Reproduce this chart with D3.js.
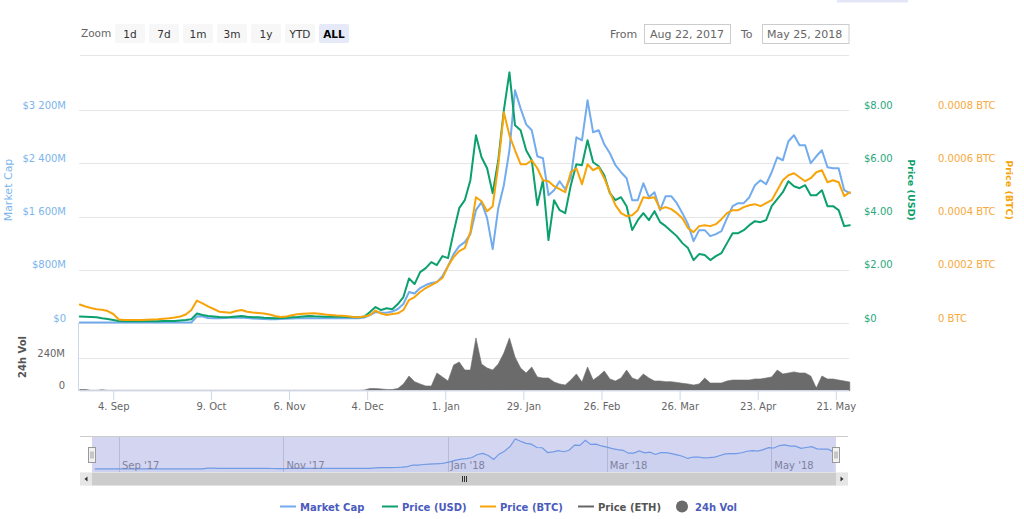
<!DOCTYPE html>
<html><head><meta charset="utf-8">
<script src="https://cdn.jsdelivr.net/npm/d3@7/dist/d3.min.js"></script>
<style>
body{margin:0;background:#fff;}
svg{display:block;font-family:"DejaVu Sans",Verdana,sans-serif;}
</style>
</head><body>
<svg id="c" width="1024" height="519"></svg>
<script>
// ---------- DATA (one sample every 2 days, starting 23 Aug 2017) ----------
const marketCap = [ // USD millions
8,8,8,8,8,8,8,8,8,8,8,8,8,8,8,8,8,8,8,8,8,
100,97,75,70,72,75,78,80,82,75,68,63,60,55,55,60,63,68,70,72,72,70,70,70,70,70,70,70,70,70,
82,120,165,158,155,172,210,285,465,442,525,570,600,615,705,855,1035,1155,1215,1335,1695,1815,1575,1110,1725,2070,2595,3495,3225,2985,2895,2505,2475,1920,1995,2130,2010,2190,2790,2745,3345,2865,2895,2685,2550,2370,2265,2175,1845,1845,2100,1890,1965,1695,1905,1905,1800,1650,1485,1230,1395,1395,1305,1335,1380,1575,1755,1800,1800,1890,2070,2145,2085,2265,2490,2445,2730,2820,2670,2670,2400,2505,2595,2340,2325,2325,1995,1950
];
const priceUsd = [
0.244,0.233,0.225,0.214,0.176,0.150,0.113,0.075,0.068,0.064,0.064,0.064,0.068,0.068,0.068,0.075,0.075,0.075,0.094,0.113,0.139,
0.356,0.300,0.263,0.244,0.225,0.214,0.225,0.244,0.263,0.233,0.218,0.214,0.195,0.188,0.176,0.188,0.199,0.214,0.225,0.244,0.263,0.251,0.244,0.236,0.236,0.236,0.236,0.225,0.218,0.214,
0.244,0.413,0.600,0.488,0.551,0.514,0.713,0.975,1.669,1.463,1.913,2.063,2.288,2.175,2.513,2.438,3.413,4.313,4.613,5.363,7.05,6.225,5.813,4.875,6.113,7.988,9.413,7.425,7.238,6.488,6.113,4.425,5.363,3.113,4.613,4.238,4.125,5.175,5.963,5.925,6.863,6.038,5.888,5.55,4.875,4.613,4.725,4.388,3.488,3.863,4.125,3.863,4.2,3.788,3.638,3.45,3.263,3.0,2.813,2.363,2.588,2.55,2.363,2.513,2.625,3.0,3.375,3.375,3.488,3.675,3.825,3.788,3.863,4.388,4.65,4.913,5.325,5.138,5.063,5.175,4.8,4.8,4.988,4.388,4.388,4.238,3.638,3.675
];
const priceBtc = [
0.694e-4,0.619e-4,0.563e-4,0.514e-4,0.495e-4,0.45e-4,0.338e-4,0.131e-4,0.113e-4,0.113e-4,0.113e-4,0.113e-4,0.12e-4,0.131e-4,0.139e-4,0.158e-4,0.176e-4,0.206e-4,0.244e-4,0.319e-4,0.488e-4,
0.844e-4,0.739e-4,0.626e-4,0.525e-4,0.424e-4,0.405e-4,0.386e-4,0.45e-4,0.488e-4,0.42e-4,0.394e-4,0.375e-4,0.356e-4,0.319e-4,0.263e-4,0.225e-4,0.244e-4,0.289e-4,0.33e-4,0.345e-4,0.356e-4,0.364e-4,0.345e-4,0.319e-4,0.30e-4,0.281e-4,0.274e-4,0.251e-4,0.225e-4,0.214e-4,
0.244e-4,0.30e-4,0.469e-4,0.356e-4,0.30e-4,0.338e-4,0.364e-4,0.488e-4,0.863e-4,0.975e-4,1.163e-4,1.313e-4,1.425e-4,1.538e-4,1.688e-4,2.138e-4,2.475e-4,2.70e-4,2.813e-4,3.413e-4,4.725e-4,4.575e-4,4.20e-4,4.388e-4,5.925e-4,7.913e-4,7.05e-4,6.488e-4,5.963e-4,5.963e-4,6.113e-4,5.813e-4,5.363e-4,5.325e-4,5.138e-4,5.025e-4,4.913e-4,5.663e-4,5.813e-4,5.213e-4,5.963e-4,5.738e-4,5.85e-4,5.438e-4,4.913e-4,4.425e-4,4.125e-4,4.013e-4,4.05e-4,4.238e-4,4.725e-4,4.688e-4,4.725e-4,4.275e-4,4.35e-4,4.275e-4,4.125e-4,3.938e-4,3.563e-4,3.413e-4,3.638e-4,3.675e-4,3.638e-4,3.713e-4,3.90e-4,4.125e-4,4.238e-4,4.238e-4,4.35e-4,4.425e-4,4.463e-4,4.388e-4,4.50e-4,4.613e-4,4.988e-4,5.363e-4,5.55e-4,5.625e-4,5.475e-4,5.325e-4,5.438e-4,5.663e-4,5.738e-4,5.288e-4,5.363e-4,5.288e-4,4.763e-4,4.913e-4
];
const volume24h = [ // USD millions
9,9,3,3,7,3,3,3,3,3,3,3,3,3,3,3,3,3,3,3,3,
3,3,3,3,3,3,3,3,3,3,3,3,3,3,3,3,3,3,3,3,3,3,3,3,3,3,3,3,3,3,
5,16,16,13,9,9,16,50,109,67,50,35,35,131,102,72,190,213,153,153,391,198,168,153,198,279,391,250,168,131,176,102,94,94,64,50,42,79,124,64,176,79,109,146,87,72,94,153,94,79,124,94,72,72,67,67,61,55,50,42,50,94,57,57,57,72,79,79,79,79,87,87,94,102,153,124,131,139,131,131,109,20,109,87,87,79,72,64
];
const mcTicks = [0, 800, 1600, 2400, 3200];
const usdTicks = [0, 2, 4, 6, 8];
const btcTicks = [0, 0.0002, 0.0004, 0.0006, 0.0008];
const volTicks = [0, 240];
const xTickDates = ["2017-09-04","2017-10-09","2017-11-06","2017-12-04","2018-01-01","2018-01-29","2018-02-26","2018-03-26","2018-04-23","2018-05-21"];
const navTickDates = ["2017-09-01","2017-11-01","2018-01-01","2018-03-01","2018-05-01"];
const zoomButtons = ["1d","7d","1m","3m","1y","YTD","ALL"];
const legendItems = ["Market Cap","Price (USD)","Price (BTC)","Price (ETH)","24h Vol"];

// ---------- SETUP ----------
const C = {mc:"#72abee", usd:"#0ba06c", btc:"#f7a30a", eth:"#666666", vol:"#6b6b6b",
  mcLab:"#7cb5ec", usdLab:"#2aa87b", btcLab:"#f7a93c", grid:"#e6e6e6", axis:"#ccd6eb"};
const svg = d3.select("#c");
const parse = d3.timeParse("%Y-%m-%d");
const start = parse("2017-08-22"), end = parse("2018-05-25");
const first = parse("2017-08-23");
const dates = marketCap.map((_, i) => d3.timeDay.offset(first, 2 * i));

const x = d3.scaleTime().domain([start, end]).range([77, 847]);
const yMc = d3.scaleLinear().domain([0, 3200]).range([323, 110]);
const yUsd = d3.scaleLinear().domain([0, 8]).range([323, 110]);
const yBtc = d3.scaleLinear().domain([0, 0.0008]).range([323, 110]);
const yVol = d3.scaleLinear().domain([0, 240]).range([390.7, 358.3]);
const xNav = d3.scaleTime().domain([start, end]).range([92, 836]);
const yNav = d3.scaleLinear().domain([0, d3.max(marketCap)]).range([469, 439]);
const crisp = v => Math.round(v) + 0.5;

// top decoration
svg.append("rect").attr("x",837).attr("y",0).attr("width",71).attr("height",2.5).attr("fill","#e3e6f6");

// ---------- RANGE SELECTOR ----------
svg.append("text").attr("x",81).attr("y",37).attr("font-size",10.5).attr("fill","#666").text("Zoom");
const btn = svg.append("g").selectAll("g").data(zoomButtons).join("g")
  .attr("transform",(d,i)=>`translate(${115 + i*34},24)`);
btn.append("rect").attr("width",30).attr("height",19).attr("rx",2)
  .attr("fill", d => d==="ALL" ? "#e6e9f7" : "#f7f7f7");
btn.append("text").attr("x",15).attr("y",13.5).attr("text-anchor","middle").attr("font-size",10.5)
  .attr("font-weight", d => d==="ALL" ? "bold" : "normal")
  .attr("fill", d => d==="ALL" ? "#000" : "#333").text(d => d);

svg.append("text").attr("x",610).attr("y",37.5).attr("font-size",11).attr("fill","#666").text("From");
svg.append("rect").attr("x",644.5).attr("y",24.5).attr("width",86).attr("height",19).attr("fill","#fff").attr("stroke","#ccc");
svg.append("text").attr("x",650).attr("y",38).attr("font-size",11).attr("fill","#666").text(d3.timeFormat("%b %-d, %Y")(start));
svg.append("text").attr("x",741).attr("y",37.5).attr("font-size",11).attr("fill","#666").text("To");
svg.append("rect").attr("x",762.5).attr("y",24.5).attr("width",86.5).attr("height",19).attr("fill","#fff").attr("stroke","#ccc");
svg.append("text").attr("x",767).attr("y",38).attr("font-size",11).attr("fill","#666").text(d3.timeFormat("%b %-d, %Y")(end));
svg.append("line").attr("x1",80).attr("x2",849).attr("y1",55.5).attr("y2",55.5).attr("stroke","#e6e6e6");

// ---------- GRID ----------
svg.append("g").selectAll("line").data(mcTicks).join("line")
  .attr("x1",79).attr("x2",849).attr("y1",d=>crisp(yMc(d))).attr("y2",d=>crisp(yMc(d)))
  .attr("stroke",C.grid);
svg.append("g").selectAll("line").data(volTicks.filter(d=>d>0)).join("line")
  .attr("x1",79).attr("x2",849).attr("y1",d=>crisp(yVol(d))).attr("y2",d=>crisp(yVol(d)))
  .attr("stroke",C.grid);

// ---------- AXES ----------
function styleAxis(g, color, anchor){
  g.attr("font-family",null).attr("font-size",10);
  g.select(".domain").remove();
  g.selectAll(".tick line").remove();
  g.selectAll("text").attr("fill",color).attr("dy","-2px");
  if(anchor) g.selectAll("text").attr("text-anchor",anchor);
}
const fmtMc = d => d===0 ? "$0" : "$" + d3.format(",")(d).replace(",", " ") + "M";
svg.append("g").attr("transform","translate(66,0)")
  .call(d3.axisLeft(yMc).tickValues(mcTicks).tickSize(0).tickPadding(0).tickFormat(fmtMc))
  .call(g=>styleAxis(g,C.mcLab,"end"));
svg.append("g").attr("transform","translate(864,0)")
  .call(d3.axisRight(yUsd).tickValues(usdTicks).tickSize(0).tickPadding(0).tickFormat(d=> d===0?"$0":"$"+d.toFixed(2)))
  .call(g=>styleAxis(g,C.usdLab,"start"));
svg.append("g").attr("transform","translate(938,0)")
  .call(d3.axisRight(yBtc).tickValues(btcTicks).tickSize(0).tickPadding(0).tickFormat(d=> d===0?"0 BTC":d.toFixed(4)+" BTC"))
  .call(g=>styleAxis(g,C.btcLab,"start"));
svg.append("g").attr("transform","translate(65,0)")
  .call(d3.axisLeft(yVol).tickValues(volTicks).tickSize(0).tickPadding(0).tickFormat(d=> d===0?"0":d+"M"))
  .call(g=>styleAxis(g,"#666","end"));

// axis titles
svg.append("text").attr("transform","translate(12,190) rotate(-90)").attr("text-anchor","middle")
  .attr("font-size",11).attr("fill",C.mcLab).text("Market Cap");
svg.append("text").attr("transform","translate(908,190) rotate(90)").attr("text-anchor","middle")
  .attr("font-size",9.5).attr("font-weight","bold").attr("fill",C.usd).text("Price (USD)");
svg.append("text").attr("transform","translate(1006,190) rotate(90)").attr("text-anchor","middle")
  .attr("font-size",9.5).attr("font-weight","bold").attr("fill",C.btc).text("Price (BTC)");
svg.append("text").attr("transform","translate(26,357) rotate(-90)").attr("text-anchor","middle")
  .attr("font-size",10).attr("font-weight","bold").attr("fill","#555").text("24h Vol");

// ---------- VOLUME ----------
const vol = dates.map((d,i)=>({d, v:volume24h[i]}));
svg.append("path").datum(vol)
  .attr("d", d3.area().x(p=>x(p.d)).y0(yVol(0)).y1(p=>yVol(p.v)))
  .attr("fill",C.vol).attr("stroke",C.vol).attr("stroke-width",0.6);

// x axis
svg.append("line").attr("x1",78.5).attr("x2",78.5).attr("y1",323).attr("y2",391).attr("stroke",C.axis);
svg.append("line").attr("x1",79).attr("x2",849).attr("y1",390.5).attr("y2",390.5).attr("stroke",C.axis);
svg.append("g").attr("transform","translate(0,391)")
  .call(d3.axisBottom(x).tickValues(xTickDates.map(parse)).tickSize(9).tickPadding(3).tickFormat(d3.timeFormat("%-d. %b")))
  .call(g=>{
    g.attr("font-family",null).attr("font-size",10);
    g.select(".domain").remove();
    g.selectAll(".tick line").attr("stroke",C.axis);
    g.selectAll("text").attr("fill","#666");
  });

// ---------- LINES ----------
function drawLine(vals, y, color){
  svg.append("path").datum(dates.map((d,i)=>({d, v:vals[i]})))
    .attr("d", d3.line().x(p=>x(p.d)).y(p=>y(p.v)))
    .attr("fill","none").attr("stroke",color).attr("stroke-width",2)
    .attr("stroke-linejoin","round").attr("stroke-linecap","round");
}
drawLine(marketCap, yMc, C.mc);
drawLine(priceUsd, yUsd, C.usd);
drawLine(priceBtc, yBtc, C.btc);

// ---------- NAVIGATOR ----------
const nav = svg.append("g");
nav.selectAll("line.g").data(navTickDates.map(parse)).join("line")
  .attr("x1",d=>crisp(xNav(d))).attr("x2",d=>crisp(xNav(d))).attr("y1",436).attr("y2",472)
  .attr("stroke","#d8d8d8");
const navData = dates.map((d,i)=>({d, v:marketCap[i]})).filter(p=>p.d<=end);
nav.append("path").datum(navData)
  .attr("d", d3.area().x(p=>xNav(p.d)).y0(472).y1(p=>yNav(p.v)))
  .attr("fill","rgba(124,181,236,0.08)");
nav.append("path").datum(navData)
  .attr("d", d3.line().x(p=>xNav(p.d)).y(p=>yNav(p.v)))
  .attr("fill","none").attr("stroke",C.mc).attr("stroke-width",1.2);
nav.selectAll("text").data(navTickDates.map(parse)).join("text")
  .attr("x",d=>xNav(d)+3).attr("y",469).attr("font-size",10).attr("fill","#888")
  .text(d3.timeFormat("%b '%y"));
nav.append("rect").attr("x",xNav(start)).attr("y",436).attr("width",xNav(end)-xNav(start)).attr("height",36)
  .attr("fill","rgba(110,115,210,0.3)");
nav.append("line").attr("x1",80).attr("x2",848).attr("y1",436.5).attr("y2",436.5).attr("stroke","#cccccc");
[xNav(start), xNav(end)].forEach(hx=>{
  const h = nav.append("g").attr("transform",`translate(${Math.round(hx)-3.5},447.5)`);
  h.append("rect").attr("width",7).attr("height",15).attr("fill","#f2f2f2").attr("stroke","#999");
  h.append("line").attr("x1",2.5).attr("x2",2.5).attr("y1",4).attr("y2",11).attr("stroke","#999");
  h.append("line").attr("x1",4.5).attr("x2",4.5).attr("y1",4).attr("y2",11).attr("stroke","#999");
});
// scrollbar
nav.append("rect").attr("x",80).attr("y",472.5).attr("width",768).attr("height",13).attr("fill","#f2f2f2");
nav.append("rect").attr("x",xNav(start)).attr("y",472.5).attr("width",xNav(end)-xNav(start)).attr("height",13).attr("fill","#cccccc");
nav.append("rect").attr("x",80).attr("y",472.5).attr("width",12).attr("height",13).attr("fill","#e6e6e6");
nav.append("rect").attr("x",836).attr("y",472.5).attr("width",12).attr("height",13).attr("fill","#e6e6e6");
nav.append("path").attr("d","M84.5,479 L87.5,476.5 L87.5,481.5 Z").attr("fill","#333");
nav.append("path").attr("d","M843.5,479 L840.5,476.5 L840.5,481.5 Z").attr("fill","#333");
const gx = (xNav(start)+xNav(end))/2;
[-2,0,2].forEach(o=>nav.append("line").attr("x1",Math.round(gx)+o+0.5).attr("x2",Math.round(gx)+o+0.5)
  .attr("y1",476).attr("y2",482).attr("stroke","#333"));

// ---------- LEGEND ----------
const legX = [300, 402, 500, 598, 695];
const legColors = [C.mc, C.usd, C.btc, C.eth, C.vol];
const lg = svg.append("g").selectAll("g").data(legendItems).join("g");
lg.each(function(d,i){
  const g = d3.select(this);
  if(i<4){
    g.append("line").attr("x1",legX[i]-20).attr("x2",legX[i]-4).attr("y1",506.5).attr("y2",506.5)
      .attr("stroke",legColors[i]).attr("stroke-width",2);
  } else {
    g.append("circle").attr("cx",legX[i]-13).attr("cy",506.5).attr("r",6).attr("fill",legColors[i]);
  }
  g.append("text").attr("x",legX[i]).attr("y",510.5).attr("font-size",10).attr("font-weight","bold")
    .attr("fill", i===3 ? "#555" : "#4b5bbd").text(d);
});
</script>
</body></html>
